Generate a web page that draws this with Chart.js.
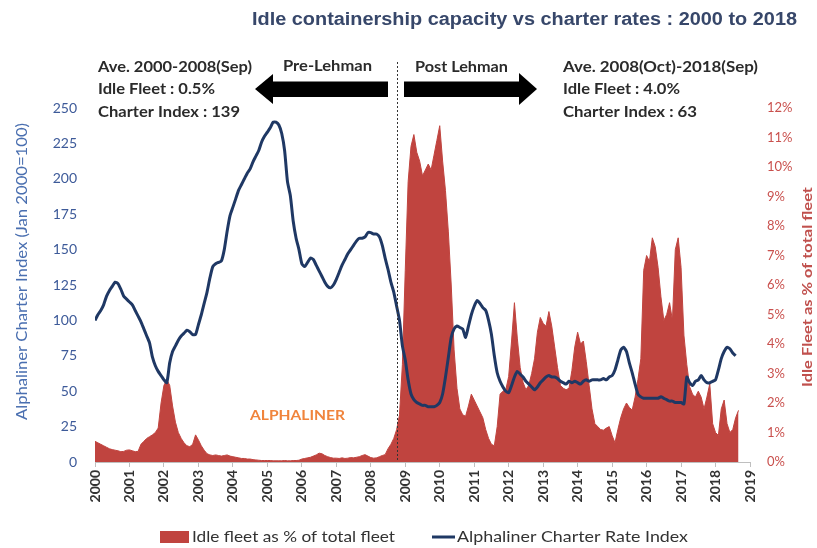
<!DOCTYPE html>
<html>
<head>
<meta charset="utf-8">
<title>Idle containership capacity vs charter rates</title>
<script src="https://cdn.jsdelivr.net/npm/chart.js@4.4.1/dist/chart.umd.min.js"></script>
<style>
  html, body { margin: 0; padding: 0; background: #fff; }
  canvas { display: block; }
</style>
</head>
<body>
<canvas id="chart" width="817" height="548"></canvas>
<script>
// monthly series, first value = Jan 2000
const startYear = 2000;
const yearTicks = [2000, 2001, 2002, 2003, 2004, 2005, 2006, 2007, 2008, 2009,
  2010, 2011, 2012, 2013, 2014, 2015, 2016, 2017, 2018, 2019];
const indexTicks = [0, 25, 50, 75, 100, 125, 150, 175, 200, 225, 250];
const idleTicks = [0, 1, 2, 3, 4, 5, 6, 7, 8, 9, 10, 11, 12];

const charterIndex = [
  100, 104, 107, 111, 117, 121, 124, 127, 126, 122, 117, 115, // 2000
  113, 111, 107, 103, 99, 94, 89, 84, 74, 68, 64, 61,         // 2001
  58, 56, 70, 78, 82, 86, 89, 91, 93, 92, 90, 90,             // 2002
  97, 104, 112, 120, 130, 138, 140, 141, 142, 150, 163, 174,  // 2003
  180, 186, 192, 196, 200, 204, 207, 212, 216, 220, 226, 230, // 2004
  233, 236, 240, 240, 238, 232, 220, 198, 188, 170, 158, 150, // 2005
  140, 138, 141, 144, 143, 139, 135, 131, 127, 124, 123, 125, // 2006
  129, 134, 139, 143, 147, 150, 153, 156, 158, 158, 159, 162, // 2007
  162, 161, 161, 159, 153, 144, 136, 127, 120, 110, 100, 82,  // 2008
  72, 58, 48, 44, 42, 41, 40, 40, 39, 39, 39, 40,             // 2009
  42, 48, 60, 74, 88, 94, 96, 95, 94, 88, 96, 104,            // 2010
  110, 114, 112, 109, 107, 100, 90, 75, 63, 57, 53, 50,       // 2011
  49, 54, 60, 64, 62, 60, 57, 55, 53, 51, 53, 56,             // 2012
  58, 60, 61, 60, 60, 59, 57, 56, 55, 57, 56, 57,             // 2013
  56, 55, 57, 58, 57, 58, 58, 58, 58, 59, 58, 60,             // 2014
  61, 65, 72, 79, 81, 78, 70, 63, 55, 48, 46, 45,             // 2015
  45, 45, 45, 45, 45, 46, 45, 44, 43, 43, 42, 42,             // 2016
  42, 41, 60, 56, 54, 57, 58, 61, 58, 56, 56, 57,             // 2017
  58, 65, 73, 78, 81, 80, 77, 75                              // 2018
];

const idleFleetPct = [
  0.7, 0.65, 0.6, 0.55, 0.5, 0.45, 0.42, 0.4, 0.38, 0.35, 0.36, 0.4,   // 2000
  0.41, 0.38, 0.35, 0.36, 0.6, 0.7, 0.8, 0.86, 0.92, 1.0, 1.15, 2.0,   // 2001
  2.6, 2.78, 2.6, 1.9, 1.35, 1.0, 0.8, 0.65, 0.55, 0.52, 0.6, 0.92,    // 2002
  0.75, 0.55, 0.4, 0.28, 0.24, 0.22, 0.24, 0.22, 0.2, 0.22, 0.24, 0.2, // 2003
  0.18, 0.16, 0.14, 0.12, 0.12, 0.1, 0.1, 0.08, 0.07, 0.06, 0.05, 0.05, // 2004
  0.05, 0.05, 0.04, 0.04, 0.04, 0.04, 0.05, 0.04, 0.04, 0.05, 0.05, 0.06, // 2005
  0.1, 0.12, 0.14, 0.16, 0.2, 0.24, 0.3, 0.28, 0.22, 0.18, 0.15, 0.13, // 2006
  0.13, 0.12, 0.14, 0.12, 0.13, 0.15, 0.14, 0.16, 0.18, 0.22, 0.25, 0.2, // 2007
  0.15, 0.13, 0.14, 0.18, 0.22, 0.25, 0.45, 0.6, 0.8, 1.1, 1.6, 3.3,   // 2008
  6.5, 9.5, 10.7, 11.1, 10.5, 10.2, 9.7, 9.9, 10.1, 9.9, 10.4, 10.9,   // 2009
  11.4, 10.2, 9.2, 7.8, 6.0, 3.8, 2.5, 1.8, 1.6, 1.55, 1.9, 2.3,       // 2010
  2.1, 1.9, 1.7, 1.5, 1.1, 0.8, 0.6, 0.55, 1.2, 2.3, 2.4, 2.45,        // 2011
  2.9, 4.1, 5.4, 4.2, 3.2, 2.7, 2.45, 2.6, 3.0, 3.5, 4.4, 4.9,         // 2012
  4.7, 4.6, 5.1, 4.6, 3.9, 3.2, 2.6, 2.5, 2.45, 2.5, 3.1, 3.9,         // 2013
  4.4, 4.0, 4.1, 3.4, 2.6, 1.8, 1.3, 1.2, 1.1, 1.08, 1.15, 1.2,        // 2014
  0.9, 0.65, 1.1, 1.5, 1.8, 2.0, 1.85, 1.76, 2.2, 2.8, 3.5, 6.5,       // 2015
  7.0, 6.8, 7.6, 7.3, 6.6, 5.6, 4.8, 5.0, 5.4, 4.8, 7.2, 7.6,          // 2016
  6.6, 4.3, 3.3, 2.55, 2.3, 2.2, 2.4, 2.2, 1.8, 2.2, 2.65, 1.3,        // 2017
  1.0, 0.9, 1.8, 2.1, 1.3, 1.0, 1.1, 1.5, 1.75                         // 2018
];

const lehmanYear = 2008.75;
const chartTitle = 'Idle containership capacity vs charter rates : 2000 to 2018';
const preLehman = ['Ave. 2000-2008(Sep)', 'Idle Fleet : 0.5%', 'Charter Index : 139'];
const postLehman = ['Ave. 2008(Oct)-2018(Sep)', 'Idle Fleet : 4.0%', 'Charter Index : 63'];

const areaColor = '#c0443f';
const lineColor = '#1f3864';

const toPoints = arr => arr.map((v, i) => ({ x: startYear + i / 12, y: v }));

// draws text squeezed/stretched to a given width (x = left edge)
function fitText(ctx, text, x, y, width) {
  const k = width / ctx.measureText(text).width;
  ctx.save();
  ctx.translate(x, y);
  ctx.scale(k, 1);
  ctx.textAlign = 'left';
  ctx.fillText(text, 0, 0);
  ctx.restore();
}

function fitTextUp(ctx, text, x, yBottom, length) {
  ctx.save();
  ctx.translate(x, yBottom);
  ctx.rotate(-Math.PI / 2);
  fitText(ctx, text, 0, 0, length);
  ctx.restore();
}

const annotations = {
  id: 'annotations',
  afterDraw(chart) {
    const ctx = chart.ctx;
    const bottom = chart.chartArea.bottom;
    const lx = chart.scales.x.getPixelForValue(lehmanYear);
    ctx.save();
    ctx.textBaseline = 'middle';

    // title
    ctx.fillStyle = '#37476a';
    ctx.font = 'bold 18px "Liberation Sans", Arial, sans-serif';
    fitText(ctx, chartTitle, 252, 20, 545);

    // averages
    ctx.fillStyle = '#2b2b2b';
    ctx.font = 'bold 15px Lato, sans-serif';
    const lw = [154, 117, 142];
    const rw = [195, 117, 134];
    preLehman.forEach((t, i) => fitText(ctx, t, 98, 67 + i * 22.5, lw[i]));
    postLehman.forEach((t, i) => fitText(ctx, t, 563, 67 + i * 22.5, rw[i]));
    fitText(ctx, 'Pre-Lehman', 283, 66, 89);
    fitText(ctx, 'Post Lehman', 415, 67, 93);

    // arrows
    ctx.fillStyle = '#000';
    ctx.beginPath();
    ctx.moveTo(255, 89);
    ctx.lineTo(273, 74);
    ctx.lineTo(273, 81.5);
    ctx.lineTo(388, 81.5);
    ctx.lineTo(388, 97);
    ctx.lineTo(273, 97);
    ctx.lineTo(273, 104);
    ctx.closePath();
    ctx.fill();
    ctx.beginPath();
    ctx.moveTo(537, 89);
    ctx.lineTo(519, 73);
    ctx.lineTo(519, 81.5);
    ctx.lineTo(404, 81.5);
    ctx.lineTo(404, 97);
    ctx.lineTo(519, 97);
    ctx.lineTo(519, 105);
    ctx.closePath();
    ctx.fill();

    // lehman divider
    ctx.strokeStyle = '#333';
    ctx.lineWidth = 1;
    ctx.setLineDash([2, 2]);
    ctx.beginPath();
    ctx.moveTo(Math.round(lx) + 0.5, 62);
    ctx.lineTo(Math.round(lx) + 0.5, bottom);
    ctx.stroke();
    ctx.setLineDash([]);

    // watermark
    ctx.fillStyle = '#f0843c';
    ctx.font = 'bold 14px Lato, sans-serif';
    fitText(ctx, 'ALPHALINER', 250, 415, 95);

    // axis titles
    ctx.fillStyle = '#4a6fb0';
    ctx.font = '15px Lato, sans-serif';
    fitTextUp(ctx, 'Alphaliner Charter Index (Jan 2000=100)', 22, 420, 297);
    ctx.fillStyle = '#c0504d';
    ctx.font = 'bold 14px Lato, sans-serif';
    fitTextUp(ctx, 'Idle Fleet as % of total fleet', 807, 387, 200);

    // legend
    ctx.fillStyle = areaColor;
    ctx.fillRect(160, 531, 29, 12);
    ctx.strokeStyle = lineColor;
    ctx.lineWidth = 3;
    ctx.beginPath();
    ctx.moveTo(432, 537);
    ctx.lineTo(455, 537);
    ctx.stroke();
    ctx.fillStyle = '#333';
    ctx.font = '15px Lato, sans-serif';
    fitText(ctx, 'Idle fleet as % of total fleet', 192, 537, 203);
    fitText(ctx, 'Alphaliner Charter Rate Index', 457, 537, 231);
    ctx.restore();
  }
};

const tickSetter = list => scale => { scale.ticks = list.map(v => ({ value: v })); };

new Chart(document.getElementById('chart'), {
  type: 'line',
  data: {
    datasets: [
      {
        label: 'Alphaliner Charter Rate Index',
        data: toPoints(charterIndex),
        yAxisID: 'y',
        borderColor: lineColor,
        borderWidth: 3,
        pointRadius: 0,
        tension: 0.2,
        fill: false,
        order: 1
      },
      {
        label: 'Idle fleet as % of total fleet',
        data: toPoints(idleFleetPct),
        yAxisID: 'y1',
        borderColor: areaColor,
        backgroundColor: areaColor,
        borderWidth: 1,
        pointRadius: 0,
        tension: 0,
        fill: 'origin',
        order: 2
      }
    ]
  },
  options: {
    responsive: false,
    animation: false,
    layout: { padding: { top: 108, left: 0, right: 0, bottom: 0 } },
    plugins: {
      legend: { display: false },
      tooltip: { enabled: false }
    },
    scales: {
      x: {
        type: 'linear',
        min: 2000,
        max: 2019,
        afterBuildTicks: tickSetter(yearTicks),
        afterFit: s => { s.height = 86; },
        border: { display: true, color: '#bfbfbf' },
        grid: { drawOnChartArea: false, drawTicks: true, tickLength: 5, color: '#bfbfbf' },
        ticks: {
          minRotation: 90,
          maxRotation: 90,
          padding: 3,
          color: '#333',
          font: { family: 'Lato', size: 14, weight: 'bold' },
          callback: v => String(v)
        }
      },
      y: {
        position: 'left',
        min: 0,
        max: 250,
        afterBuildTicks: tickSetter(indexTicks),
        afterFit: s => { s.width = 95; },
        border: { display: false },
        grid: { display: false, drawTicks: false },
        ticks: {
          padding: 18,
          color: '#3d5a99',
          font: { family: 'Lato', size: 14 }
        }
      },
      y1: {
        position: 'right',
        min: 0,
        max: 12,
        afterBuildTicks: tickSetter(idleTicks),
        afterFit: s => { s.width = 67; },
        border: { display: false },
        grid: { display: false, drawTicks: false },
        ticks: {
          padding: 17,
          color: '#c9504d',
          font: { family: 'Lato', size: 13 },
          callback: v => v + '%'
        }
      }
    }
  },
  plugins: [annotations]
});
</script>
</body>
</html>
